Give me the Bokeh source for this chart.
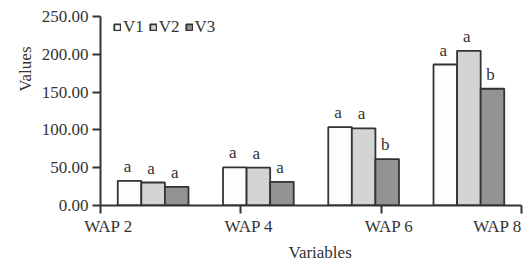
import numpy as np
from bokeh.plotting import figure
from bokeh.models import (Range1d, FixedTicker, NumeralTickFormatter, Legend, LegendItem,
                          ColumnDataSource, LinearAxis, CustomJSTickFormatter, Title)
from bokeh.core.properties import value
from bokeh.embed import file_html
from bokeh.resources import INLINE

categories = ["WAP 2", "WAP 4", "WAP 6", "WAP 8"]
series = ["V1", "V2", "V3"]
v1 = [32.7, 50.3, 103.7, 186.5]
v2 = [30.4, 50.0, 101.9, 204.6]
v3 = [24.7, 31.3, 61.4, 154.4]
l1 = ["a", "a", "a", "a"]
l2 = ["a", "a", "a", "a"]
l3 = ["a", "a", "b", "b"]
y_ticks = [0, 50, 100, 150, 200, 250]

FONT = "'Liberation Serif'"
INK = "#333333"
colors = ["#fdfdfd", "#d3d4d6", "#939393"]

W, H = 529, 264
BL, BR, BT, BB = 100, 8, 16, 59
n = len(categories)
unit = 3.0
bw = 0.672
centers = unit * np.arange(n) + unit / 2
xmax = unit * n
tick_pos = list(np.linspace(0, xmax, n))
px_per_unit = (W - BL - BR) / xmax
label_pos = [t + 8 / px_per_unit for t in tick_pos[:-1]] + [tick_pos[-1] - 24 / px_per_unit]

p = figure(width=W, height=H, output_backend="svg", toolbar_location=None,
           x_range=Range1d(0, xmax), y_range=Range1d(0, 250), x_axis_location=None,
           min_border_left=BL, min_border_right=BR, min_border_top=BT, min_border_bottom=BB)
p.outline_line_color = None
p.xgrid.grid_line_color = None
p.ygrid.grid_line_color = None

renderers = []
for k, (vals, labs) in enumerate(zip([v1, v2, v3], [l1, l2, l3])):
    xs = centers + (k - 1) * bw
    src = ColumnDataSource(dict(x=xs, top=vals, lab=labs))
    r = p.vbar(x="x", top="top", width=bw, bottom=0, source=src,
               fill_color=colors[k], line_color=INK, line_width=1.8)
    renderers.append(r)
    p.text(x="x", y="top", text="lab", source=src, text_font=value(FONT),
           text_font_size="17px", text_color=INK, text_align="center",
           text_baseline="bottom", y_offset=-5, x_offset=-2)

legend = Legend(items=[LegendItem(label=s, renderers=[r]) for s, r in zip(series, renderers)],
                orientation="horizontal", location=(13, 168),
                glyph_width=8, glyph_height=8, label_standoff=2, spacing=5,
                padding=0, margin=0, border_line_color=None, background_fill_alpha=0,
                label_text_font=FONT, label_text_font_size="17px", label_text_color=INK)
p.add_layout(legend)

xa = LinearAxis(ticker=FixedTicker(ticks=tick_pos),
                formatter=CustomJSTickFormatter(code="return ''"))
xa.major_label_standoff = 0
xa.major_label_text_font_size = "1px"
xl = LinearAxis(ticker=FixedTicker(ticks=label_pos),
                formatter=CustomJSTickFormatter(args=dict(labels=categories), code="return labels[index]"))
xl.axis_line_color = None
xl.major_tick_line_color = None
xl.major_tick_out = 0
xl.major_tick_in = 0
xl.minor_tick_line_color = None
xl.major_label_standoff = 3
xl.major_label_text_font = FONT
xl.major_label_text_font_size = "17px"
xl.major_label_text_line_height = 1.0
xl.major_label_text_color = INK
p.add_layout(xa, "below")
p.add_layout(xl, "below")

for ax in (xa, p.yaxis[0]):
    ax.axis_line_color = INK
    ax.axis_line_width = 2
    ax.major_tick_line_color = INK
    ax.major_tick_line_width = 2
    ax.major_tick_out = 8
    ax.major_tick_in = 0
    ax.minor_tick_line_color = None
p.yaxis.major_label_text_font = FONT
p.yaxis.major_label_text_font_size = "17px"
p.yaxis.major_label_text_color = INK
p.yaxis.ticker = FixedTicker(ticks=y_ticks)
p.yaxis.formatter = NumeralTickFormatter(format="0.00")
p.yaxis.major_label_standoff = 4

p.add_layout(Title(text="Variables", align="left", offset=188, text_font=FONT,
                   text_font_size="17px", text_font_style="normal", text_color=INK,
                   standoff=5), "below")
p.add_layout(Title(text="Values", align="right", offset=30, text_font=FONT,
                   text_font_size="17px", text_font_style="normal", text_color=INK,
                   standoff=8), "left")

open("out.html", "w").write(file_html(p, INLINE))
